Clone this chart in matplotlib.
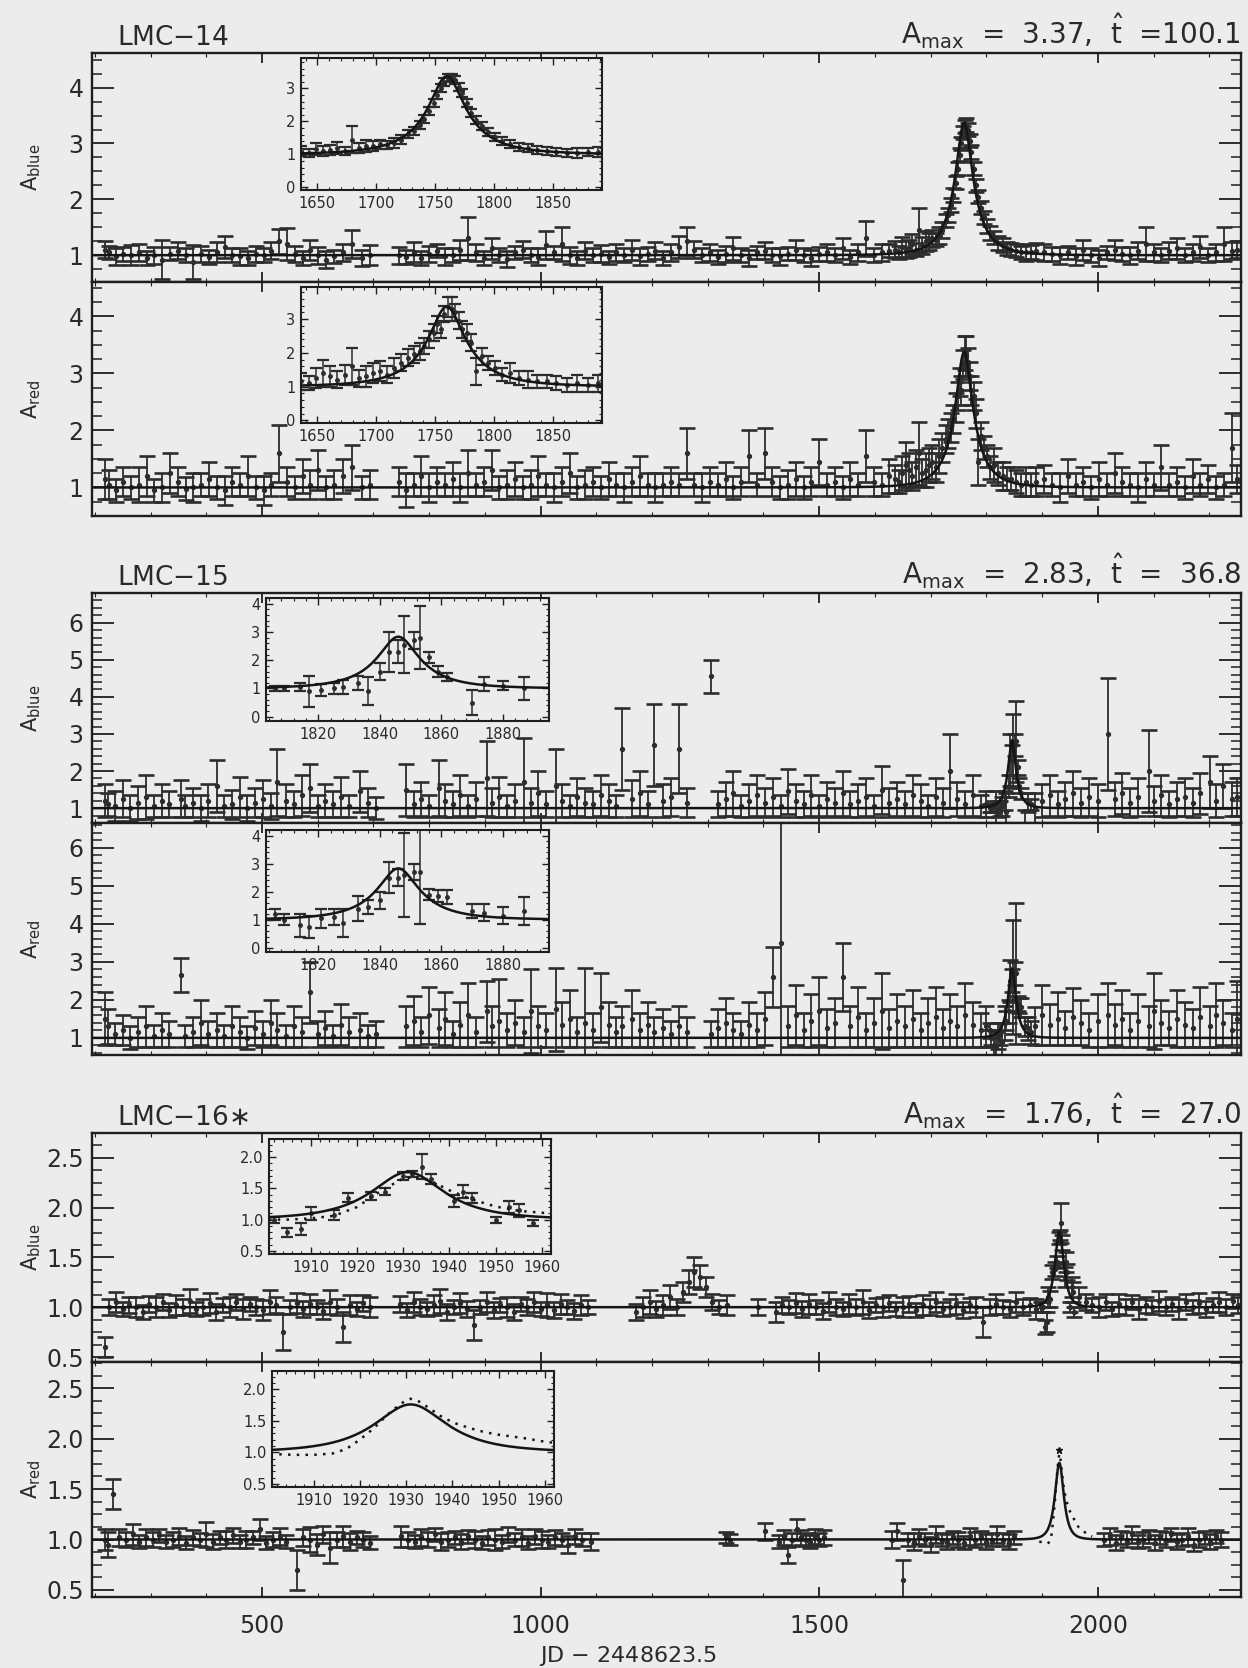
import numpy as np
import matplotlib
matplotlib.use("Agg")
import matplotlib.pyplot as plt
from matplotlib.ticker import MultipleLocator, FormatStrFormatter

plt.rcParams['font.family'] = ['DejaVu Sans']
plt.rcParams['mathtext.fontset'] = 'dejavusans'

# ---------------- LMC-14 (shared epochs for blue and red) ----------------
t14 = [218, 226, 238, 251, 265, 279, 293, 307, 321, 335,
       349, 363, 377, 391, 405, 419, 433, 447, 461, 475,
       489, 503, 517, 531, 545, 559, 573, 587, 601, 615,
       629, 645, 662, 680, 694, 746, 758, 772, 786, 800,
       814, 828, 842, 856, 870, 884, 898, 912, 926, 940,
       954, 968, 982, 996, 1010, 1024, 1038, 1052, 1066, 1080,
       1094, 1108, 1122, 1136, 1150, 1164, 1178, 1192, 1206, 1220,
       1234, 1248, 1262, 1276, 1290, 1304, 1318, 1332, 1346, 1360,
       1374, 1388, 1402, 1416, 1430, 1444, 1458, 1472, 1486, 1500,
       1514, 1528, 1542, 1556, 1570, 1584, 1598, 1612, 1626, 1636,
       1643, 1649, 1655, 1661, 1667, 1673, 1679, 1685, 1691, 1697,
       1703, 1709, 1715, 1721, 1727, 1732, 1737, 1741, 1745, 1749,
       1752, 1755, 1758, 1761, 1764, 1767, 1770, 1773, 1777, 1781,
       1785, 1790, 1795, 1801, 1807, 1814, 1821, 1829, 1837, 1845,
       1853, 1862, 1871, 1880, 1889, 1904, 1918, 1932, 1946, 1960,
       1974, 1988, 2002, 2016, 2030, 2044, 2058, 2072, 2086, 2100,
       2114, 2128, 2142, 2156, 2170, 2184, 2198, 2212, 2226, 2240,
       2250]
b14 = [1.10, 1.05, 0.98, 1.02, 1.00, 1.05, 0.95, 1.00, 0.92, 1.03,
       1.08, 1.00, 0.88, 1.02, 0.97, 1.05, 1.15, 1.00, 0.98, 0.95,
       1.02, 1.00, 1.08, 1.25, 1.20, 1.02, 0.95, 1.10, 1.00, 0.92,
       0.98, 1.05, 1.20, 0.95, 1.00, 1.00, 0.97, 1.05, 0.95, 1.02,
       1.08, 0.98, 1.00, 1.10, 1.30, 1.05, 0.95, 1.12, 1.00, 0.93,
       1.05, 1.10, 1.00, 0.97, 1.18, 1.05, 1.20, 1.00, 0.95, 1.08,
       1.00, 1.03, 0.96, 1.05, 1.00, 1.10, 0.98, 1.02, 1.08, 0.95,
       1.05, 1.15, 1.25, 1.10, 1.00, 1.05, 0.97, 1.02, 1.12, 1.00,
       0.95, 1.05, 1.08, 1.00, 0.98, 1.03, 1.10, 1.00, 0.95, 1.02,
       1.05, 1.00, 1.12, 0.97, 1.05, 1.30, 1.00, 1.05, 1.08, 1.10,
       1.05, 1.15, 1.10, 1.12, 1.20, 1.10, 1.45, 1.18, 1.25, 1.25,
       1.30, 1.28, 1.35, 1.45, 1.62, 1.72, 1.90, 2.08, 2.30, 2.55,
       2.80, 3.00, 3.20, 3.30, 3.33, 3.25, 3.05, 2.85, 2.55, 2.25,
       2.05, 1.85, 1.68, 1.52, 1.40, 1.32, 1.22, 1.18, 1.12, 1.10,
       1.08, 1.05, 1.05, 1.06, 1.07, 1.05, 1.02, 1.00, 1.05, 0.98,
       1.10, 1.00, 0.95, 1.05, 1.10, 1.02, 1.00, 1.08, 1.20, 1.05,
       1.00, 1.08, 1.12, 1.00, 1.05, 1.15, 1.00, 1.05, 1.20, 1.08,
       1.10]
eb14 = [0.15, 0.12, 0.15, 0.12, 0.18, 0.15, 0.12, 0.15, 0.35, 0.12,
        0.15, 0.12, 0.30, 0.15, 0.12, 0.18, 0.20, 0.12, 0.15, 0.12,
        0.15, 0.12, 0.15, 0.22, 0.28, 0.15, 0.12, 0.18, 0.15, 0.15,
        0.12, 0.15, 0.25, 0.15, 0.18, 0.15, 0.12, 0.18, 0.12, 0.15,
        0.12, 0.15, 0.12, 0.18, 0.38, 0.15, 0.12, 0.18, 0.12, 0.15,
        0.12, 0.15, 0.12, 0.15, 0.25, 0.12, 0.30, 0.15, 0.12, 0.15,
        0.12, 0.15, 0.12, 0.15, 0.12, 0.18, 0.15, 0.12, 0.15, 0.12,
        0.15, 0.20, 0.25, 0.15, 0.12, 0.15, 0.12, 0.15, 0.20, 0.12,
        0.15, 0.12, 0.15, 0.12, 0.15, 0.12, 0.18, 0.12, 0.15, 0.12,
        0.15, 0.12, 0.18, 0.12, 0.15, 0.32, 0.12, 0.15, 0.12, 0.15,
        0.12, 0.18, 0.15, 0.15, 0.18, 0.12, 0.40, 0.15, 0.18, 0.15,
        0.15, 0.12, 0.15, 0.15, 0.12, 0.12, 0.12, 0.12, 0.12, 0.12,
        0.12, 0.12, 0.12, 0.12, 0.12, 0.12, 0.12, 0.12, 0.12, 0.12,
        0.12, 0.12, 0.12, 0.12, 0.12, 0.12, 0.12, 0.12, 0.12, 0.12,
        0.12, 0.12, 0.15, 0.12, 0.15, 0.15, 0.12, 0.15, 0.12, 0.15,
        0.18, 0.12, 0.15, 0.12, 0.18, 0.12, 0.15, 0.15, 0.30, 0.15,
        0.12, 0.15, 0.18, 0.12, 0.15, 0.20, 0.12, 0.15, 0.30, 0.15,
        0.15]
r14 = [1.15, 1.05, 0.95, 1.10, 1.00, 1.05, 1.20, 0.95, 1.00, 1.25,
       1.10, 0.98, 1.00, 1.05, 1.15, 1.00, 0.95, 1.10, 1.05, 1.20,
       1.00, 0.95, 1.05, 1.60, 1.10, 1.00, 1.20, 1.05, 1.30, 1.00,
       1.05, 1.20, 1.35, 1.00, 1.05, 1.10, 0.95, 1.05, 1.20, 1.00,
       1.10, 1.05, 1.15, 1.00, 1.25, 1.05, 1.10, 1.30, 1.00, 1.05,
       1.15, 1.00, 1.05, 1.20, 1.05, 1.00, 1.10, 1.25, 1.00, 1.05,
       1.10, 1.00, 1.15, 1.05, 1.00, 1.10, 1.20, 1.05, 1.00, 1.05,
       1.10, 1.05, 1.60, 1.05, 1.00, 1.10, 1.05, 1.15, 1.00, 1.10,
       1.55, 1.05, 1.60, 1.10, 1.00, 1.05, 1.15, 1.00, 1.10, 1.45,
       1.05, 1.10, 1.00, 1.15, 1.05, 1.55, 1.10, 1.05, 1.20, 1.15,
       1.10, 1.25, 1.40, 1.30, 1.20, 1.35, 1.60, 1.25, 1.30, 1.40,
       1.45, 1.35, 1.55, 1.70, 1.85, 1.95, 2.05, 2.20, 2.40, 2.60,
       2.85, 2.70, 3.15, 3.35, 3.30, 3.20, 2.95, 2.70, 2.60, 2.30,
       1.45, 1.90, 1.70, 1.55, 1.35, 1.40, 1.25, 1.20, 1.15, 1.15,
       1.10, 1.05, 1.10, 1.05, 1.10, 1.15, 1.05, 1.00, 1.20, 1.05,
       1.10, 1.00, 1.15, 1.05, 1.25, 1.10, 1.05, 1.00, 1.15, 1.05,
       1.35, 1.05, 1.10, 1.00, 1.20, 1.05, 1.15, 1.00, 1.05, 1.70,
       1.15]
er14 = [0.35, 0.25, 0.20, 0.25, 0.20, 0.30, 0.35, 0.20, 0.25, 0.35,
        0.25, 0.20, 0.25, 0.20, 0.30, 0.20, 0.25, 0.25, 0.20, 0.35,
        0.20, 0.25, 0.20, 0.50, 0.25, 0.20, 0.30, 0.25, 0.35, 0.20,
        0.25, 0.30, 0.40, 0.20, 0.25, 0.25, 0.30, 0.20, 0.35, 0.25,
        0.25, 0.20, 0.30, 0.25, 0.40, 0.20, 0.25, 0.35, 0.20, 0.25,
        0.30, 0.20, 0.25, 0.35, 0.20, 0.25, 0.25, 0.35, 0.20, 0.25,
        0.25, 0.20, 0.30, 0.20, 0.25, 0.25, 0.35, 0.20, 0.25, 0.20,
        0.25, 0.20, 0.45, 0.20, 0.25, 0.25, 0.20, 0.30, 0.20, 0.25,
        0.45, 0.20, 0.45, 0.25, 0.20, 0.25, 0.30, 0.20, 0.25, 0.40,
        0.20, 0.25, 0.20, 0.30, 0.20, 0.45, 0.25, 0.20, 0.30, 0.25,
        0.20, 0.30, 0.40, 0.30, 0.25, 0.30, 0.55, 0.25, 0.30, 0.30,
        0.30, 0.25, 0.30, 0.25, 0.25, 0.25, 0.25, 0.25, 0.25, 0.25,
        0.25, 0.25, 0.25, 0.30, 0.35, 0.25, 0.25, 0.25, 0.25, 0.25,
        0.40, 0.25, 0.20, 0.20, 0.20, 0.30, 0.20, 0.25, 0.20, 0.20,
        0.20, 0.20, 0.25, 0.20, 0.25, 0.25, 0.20, 0.25, 0.30, 0.20,
        0.25, 0.20, 0.30, 0.20, 0.35, 0.25, 0.20, 0.25, 0.30, 0.20,
        0.40, 0.20, 0.25, 0.20, 0.30, 0.20, 0.25, 0.20, 0.20, 0.60,
        0.25]

# ---------------- LMC-15 (shared epochs) ----------------
t15 = [218, 224, 236, 250, 264, 278, 292, 306, 320, 334,
       354, 362, 376, 390, 404, 419, 432, 446, 460, 474,
       488, 502, 516, 527, 544, 558, 572, 586, 600, 614,
       628, 642, 656, 676, 690, 705, 758, 772, 786, 800,
       818, 828, 842, 856, 870, 884, 903, 912, 926, 940,
       954, 971, 982, 996, 1010, 1027, 1038, 1052, 1066, 1080,
       1094, 1108, 1122, 1136, 1147, 1164, 1178, 1192, 1204, 1220,
       1234, 1249, 1262, 1305, 1318, 1332, 1346, 1360, 1374, 1388,
       1402, 1417, 1431, 1444, 1458, 1472, 1486, 1500, 1514, 1528,
       1543, 1556, 1570, 1584, 1598, 1612, 1626, 1640, 1654, 1668,
       1682, 1696, 1710, 1722, 1734, 1748, 1762, 1776, 1790, 1800,
       1806, 1809, 1814, 1817, 1821, 1825, 1828, 1833, 1836, 1840,
       1843, 1846, 1848, 1851, 1853, 1856, 1859, 1862, 1870, 1874,
       1880, 1887, 1900, 1914, 1928, 1942, 1956, 1970, 1984, 2000,
       2018, 2030, 2044, 2058, 2072, 2091, 2100, 2114, 2128, 2142,
       2156, 2170, 2184, 2201, 2212, 2225, 2240, 2250]
b15 = [1.20, 1.10, 1.05, 1.25, 1.00, 1.15, 1.30, 1.05, 1.20, 1.10,
       1.25, 1.05, 1.15, 1.00, 1.20, 1.60, 1.05, 1.10, 1.30, 1.00,
       1.15, 1.25, 1.05, 1.70, 1.20, 1.10, 1.35, 1.55, 1.05, 1.20,
       1.10, 1.30, 1.05, 1.45, 1.15, 1.00, 1.50, 1.10, 1.25, 1.05,
       1.55, 1.20, 1.10, 1.35, 1.05, 1.25, 1.80, 1.15, 1.30, 1.05,
       1.20, 1.70, 1.15, 1.40, 1.10, 1.60, 1.20, 1.05, 1.30, 1.15,
       1.10, 1.35, 1.20, 1.05, 2.60, 1.25, 1.40, 1.10, 2.70, 1.20,
       1.30, 2.60, 1.15, 4.55, 1.10, 1.25, 1.40, 1.05, 1.20, 1.35,
       1.15, 1.30, 1.05, 1.45, 1.20, 1.10, 1.35, 1.05, 1.25, 1.15,
       1.40, 1.10, 1.20, 1.30, 1.05, 1.50, 1.15, 1.25, 1.10, 1.35,
       1.20, 1.05, 1.30, 1.15, 2.00, 1.25, 1.10, 1.35, 1.05, 1.10,
       1.00, 1.00, 1.05, 0.90, 0.95, 1.00, 1.05, 1.20, 0.90, 1.60,
       2.30, 2.30, 2.55, 2.70, 2.80, 2.10, 1.60, 1.40, 0.50, 1.15,
       1.10, 1.00, 1.20, 1.35, 1.10, 1.25, 1.40, 1.15, 1.30, 1.20,
       3.00, 1.25, 1.40, 1.15, 1.30, 2.00, 1.20, 1.35, 1.10, 1.25,
       1.30, 1.15, 1.40, 1.70, 1.20, 1.60, 1.25, 1.30]
eb15 = [0.45, 0.30, 0.40, 0.50, 0.35, 0.45, 0.60, 0.30, 0.45, 0.35,
        0.50, 0.30, 0.40, 0.35, 0.45, 0.70, 0.30, 0.40, 0.55, 0.35,
        0.40, 0.50, 0.35, 0.90, 0.45, 0.35, 0.55, 0.65, 0.30, 0.45,
        0.35, 0.55, 0.30, 0.55, 0.40, 0.30, 0.70, 0.35, 0.45, 0.30,
        0.75, 0.45, 0.35, 0.55, 0.30, 0.45, 1.00, 0.40, 0.55, 0.30,
        0.45, 1.20, 0.40, 0.60, 0.35, 1.00, 0.45, 0.30, 0.50, 0.40,
        0.35, 0.55, 0.45, 0.30, 1.10, 0.50, 0.60, 0.35, 1.10, 0.45,
        0.50, 1.20, 0.40, 0.45, 0.35, 0.45, 0.60, 0.30, 0.45, 0.55,
        0.40, 0.50, 0.30, 0.60, 0.45, 0.35, 0.55, 0.30, 0.45, 0.40,
        0.60, 0.35, 0.45, 0.50, 0.30, 0.65, 0.40, 0.45, 0.35, 0.55,
        0.45, 0.30, 0.50, 0.40, 1.00, 0.45, 0.35, 0.55, 0.30, 0.35,
        0.10, 0.10, 0.15, 0.55, 0.20, 0.20, 0.25, 0.25, 0.50, 0.30,
        0.70, 0.40, 1.00, 0.30, 1.10, 0.20, 0.20, 0.15, 0.45, 0.25,
        0.15, 0.40, 0.45, 0.55, 0.35, 0.45, 0.60, 0.40, 0.50, 0.45,
        1.50, 0.45, 0.55, 0.40, 0.50, 1.10, 0.40, 0.55, 0.35, 0.45,
        0.50, 0.40, 0.55, 0.70, 0.45, 0.60, 0.45, 0.50]
r15 = [1.50, 1.30, 1.10, 1.20, 1.00, 1.15, 1.30, 1.05, 1.20, 1.10,
       2.65, 1.05, 1.15, 1.40, 1.10, 1.20, 1.05, 1.30, 1.15, 1.00,
       1.25, 1.10, 1.40, 1.20, 1.05, 1.30, 1.15, 2.20, 1.10, 1.25,
       1.05, 1.35, 1.15, 1.20, 1.05, 1.10, 1.30, 1.45, 1.15, 1.60,
       1.25, 1.50, 1.10, 1.35, 1.60, 1.15, 1.70, 1.30, 1.45, 1.20,
       1.40, 1.15, 1.70, 1.30, 1.20, 1.75, 1.35, 1.50, 1.15, 1.40,
       1.20, 1.80, 1.35, 1.15, 1.30, 1.50, 1.20, 1.35, 1.15, 1.25,
       1.10, 1.30, 1.15, 1.10, 1.25, 1.40, 1.20, 1.10, 1.35, 1.20,
       1.50, 2.60, 3.50, 1.30, 1.60, 1.20, 1.45, 1.70, 1.25, 1.40,
       2.60, 1.30, 1.55, 1.20, 1.40, 1.70, 1.25, 1.45, 1.30, 1.50,
       1.20, 1.40, 1.55, 1.25, 1.45, 1.30, 1.60, 1.35, 1.20, 1.30,
       1.20, 1.00, 0.80, 0.75, 1.05, 1.10, 0.90, 1.40, 1.45, 1.70,
       2.50, 2.50, 2.60, 2.70, 2.70, 1.90, 1.85, 1.80, 1.30, 1.25,
       1.15, 1.30, 1.60, 1.35, 1.50, 1.25, 1.55, 1.40, 1.20, 1.45,
       1.60, 1.35, 1.50, 1.20, 1.45, 1.30, 1.70, 1.40, 1.25, 1.50,
       1.35, 1.25, 1.55, 1.30, 1.60, 1.40, 1.20, 1.50]
er15 = [0.70, 0.45, 0.30, 0.40, 0.30, 0.40, 0.55, 0.30, 0.45, 0.35,
        0.45, 0.30, 0.40, 0.60, 0.35, 0.45, 0.30, 0.55, 0.40, 0.30,
        0.45, 0.35, 0.60, 0.45, 0.30, 0.55, 0.40, 0.80, 0.35, 0.45,
        0.30, 0.55, 0.40, 0.45, 0.30, 0.35, 0.55, 0.65, 0.40, 0.75,
        0.50, 0.70, 0.35, 0.60, 0.85, 0.40, 0.80, 0.55, 1.10, 0.45,
        0.60, 0.40, 1.10, 0.55, 0.45, 1.10, 0.60, 0.75, 0.40, 1.45,
        0.45, 0.90, 0.60, 0.40, 0.55, 0.75, 0.45, 0.60, 0.40, 0.50,
        0.35, 0.55, 0.40, 0.35, 0.50, 0.65, 0.45, 0.35, 0.60, 0.45,
        0.70, 0.80, 3.40, 0.55, 0.80, 0.45, 0.70, 0.90, 0.50, 0.65,
        0.90, 0.55, 0.80, 0.45, 0.65, 1.00, 0.50, 0.70, 0.55, 0.75,
        0.45, 0.65, 0.80, 0.50, 0.70, 0.55, 0.85, 0.60, 0.45, 0.55,
        0.20, 0.20, 0.40, 0.40, 0.35, 0.30, 0.50, 0.45, 0.25, 0.30,
        0.55, 0.30, 1.50, 0.30, 1.85, 0.20, 0.20, 0.25, 0.25, 0.30,
        0.30, 0.50, 0.80, 0.55, 0.70, 0.45, 0.75, 0.60, 0.45, 0.70,
        0.85, 0.55, 0.75, 0.45, 0.70, 0.55, 1.00, 0.60, 0.45, 0.75,
        0.60, 0.50, 0.80, 0.55, 0.85, 0.60, 0.45, 1.00]

# ---------------- LMC-16 blue ----------------
t16b = [218, 226, 238, 250, 262, 274, 286, 298, 310, 322,
        334, 346, 358, 370, 382, 394, 406, 418, 430, 442,
        454, 466, 478, 490, 502, 514, 526, 538, 550, 562,
        574, 586, 598, 610, 622, 634, 646, 658, 670, 682,
        694, 748, 760, 772, 784, 796, 808, 820, 832, 844,
        856, 868, 880, 892, 904, 916, 928, 940, 952, 964,
        976, 988, 1000, 1012, 1024, 1036, 1048, 1060, 1072, 1086,
        1172, 1184, 1196, 1208, 1220, 1232, 1244, 1256, 1266, 1276,
        1286, 1296, 1308, 1320, 1334, 1390, 1422, 1434, 1446, 1458,
        1470, 1482, 1494, 1506, 1518, 1530, 1542, 1554, 1566, 1578,
        1590, 1602, 1614, 1626, 1638, 1650, 1662, 1674, 1686, 1698,
        1710, 1722, 1734, 1746, 1758, 1770, 1782, 1794, 1806, 1818,
        1830, 1842, 1854, 1866, 1878, 1890, 1898, 1902, 1905, 1908,
        1910, 1915, 1918, 1923, 1926, 1930, 1932, 1934, 1936, 1941,
        1943, 1945, 1950, 1953, 1955, 1958, 1966, 1978, 1990, 2002,
        2014, 2026, 2038, 2050, 2062, 2074, 2086, 2098, 2110, 2122,
        2134, 2146, 2158, 2170, 2182, 2194, 2206, 2218, 2230, 2242,
        2252]
b16 = [0.60, 1.00, 1.05, 0.98, 1.02, 1.00, 0.95, 1.03, 1.00, 1.05,
       0.97, 1.02, 1.00, 1.06, 0.98, 1.00, 1.04, 0.95, 1.02, 1.00,
       1.05, 0.98, 1.03, 1.00, 0.97, 1.05, 1.02, 0.75, 1.00, 1.04,
       0.98, 1.03, 1.00, 0.96, 1.05, 1.00, 0.80, 1.02, 0.98, 1.04,
       1.00, 1.03, 0.97, 1.05, 1.00, 0.98, 1.02, 1.06, 0.95, 1.00,
       1.04, 0.98, 0.82, 1.00, 1.05, 0.97, 1.02, 1.00, 0.95, 1.03,
       1.00, 1.05, 0.98, 1.02, 0.97, 1.03, 1.00, 0.96, 1.02, 1.00,
       0.95, 1.00, 1.05, 0.98, 1.02, 1.10, 1.00, 1.15, 1.25, 1.35,
       1.30, 1.20, 1.05, 1.00, 1.02, 1.00, 0.95, 1.02, 1.00, 1.04,
       0.98, 1.03, 1.00, 0.96, 1.05, 1.00, 0.98, 1.03, 1.00, 1.05,
       0.97, 1.02, 1.00, 1.04, 0.98, 1.00, 1.03, 0.97, 1.02, 1.00,
       1.05, 0.98, 1.00, 1.03, 0.97, 1.02, 1.00, 0.85, 1.00, 1.03,
       1.00, 0.98, 1.05, 1.00, 1.02, 0.98, 1.00, 1.00, 0.80, 0.85,
       1.10, 1.08, 1.35, 1.38, 1.45, 1.70, 1.73, 1.85, 1.65, 1.30,
       1.45, 1.35, 1.00, 1.20, 1.15, 0.95, 1.10, 1.05, 1.02, 1.00,
       1.05, 0.98, 1.03, 1.00, 1.05, 0.98, 1.02, 1.00, 1.06, 1.00,
       1.03, 0.98, 1.05, 1.00, 1.04, 0.98, 1.02, 1.05, 1.00, 1.06,
       1.02]
eb16 = [0.10, 0.08, 0.10, 0.07, 0.08, 0.10, 0.07, 0.08, 0.10, 0.08,
        0.07, 0.10, 0.08, 0.12, 0.07, 0.08, 0.10, 0.08, 0.07, 0.10,
        0.08, 0.10, 0.07, 0.08, 0.10, 0.12, 0.08, 0.18, 0.07, 0.10,
        0.08, 0.10, 0.07, 0.08, 0.12, 0.08, 0.15, 0.10, 0.07, 0.08,
        0.10, 0.08, 0.07, 0.10, 0.08, 0.07, 0.10, 0.12, 0.08, 0.07,
        0.10, 0.08, 0.15, 0.07, 0.10, 0.08, 0.07, 0.10, 0.08, 0.07,
        0.08, 0.10, 0.07, 0.12, 0.08, 0.10, 0.07, 0.08, 0.10, 0.07,
        0.08, 0.10, 0.12, 0.08, 0.10, 0.12, 0.08, 0.10, 0.12, 0.15,
        0.12, 0.10, 0.08, 0.07, 0.10, 0.08, 0.10, 0.08, 0.07, 0.10,
        0.08, 0.10, 0.07, 0.08, 0.10, 0.08, 0.07, 0.10, 0.08, 0.12,
        0.08, 0.07, 0.10, 0.08, 0.07, 0.10, 0.08, 0.07, 0.10, 0.08,
        0.10, 0.07, 0.08, 0.10, 0.08, 0.07, 0.10, 0.15, 0.08, 0.10,
        0.07, 0.08, 0.10, 0.08, 0.07, 0.10, 0.05, 0.05, 0.07, 0.10,
        0.10, 0.08, 0.07, 0.07, 0.06, 0.06, 0.05, 0.20, 0.08, 0.10,
        0.10, 0.08, 0.05, 0.10, 0.10, 0.05, 0.10, 0.08, 0.07, 0.10,
        0.08, 0.07, 0.10, 0.08, 0.07, 0.10, 0.08, 0.07, 0.10, 0.08,
        0.07, 0.10, 0.08, 0.07, 0.10, 0.08, 0.07, 0.10, 0.08, 0.07,
        0.08]

# ---------------- LMC-16 red ----------------
t16r = [218, 224, 232, 244, 256, 268, 280, 292, 304, 316,
        328, 340, 352, 364, 376, 388, 400, 412, 424, 436,
        448, 460, 472, 484, 496, 508, 520, 532, 544, 563,
        574, 586, 598, 610, 622, 634, 646, 658, 670, 682,
        694, 750, 762, 774, 786, 798, 810, 822, 834, 846,
        858, 870, 882, 894, 906, 918, 930, 942, 954, 966,
        978, 990, 1002, 1014, 1026, 1038, 1050, 1062, 1074, 1090,
        1332, 1340, 1402, 1428, 1436, 1444, 1452, 1460, 1468, 1476,
        1484, 1492, 1500, 1508, 1630, 1640, 1650, 1660, 1670, 1680,
        1690, 1700, 1710, 1720, 1730, 1740, 1750, 1760, 1770, 1780,
        1790, 1800, 1810, 1820, 1830, 1840, 1850, 2012, 2022, 2032,
        2042, 2052, 2062, 2072, 2082, 2092, 2102, 2112, 2122, 2132,
        2142, 2152, 2162, 2172, 2182, 2192, 2202, 2212, 2222]
r16 = [1.00, 0.95, 1.45, 1.02, 1.00, 1.05, 0.98, 1.02, 1.00, 1.04,
       0.98, 1.00, 1.03, 0.97, 1.02, 1.00, 1.05, 0.98, 1.02, 1.00,
       1.04, 0.98, 1.00, 1.02, 1.10, 0.97, 1.00, 1.03, 0.98, 0.70,
       1.02, 1.00, 0.95, 1.05, 0.92, 1.00, 1.03, 0.98, 1.02, 1.00,
       0.97, 1.03, 1.00, 0.98, 1.02, 1.00, 1.05, 0.98, 1.00, 1.02,
       0.98, 1.03, 1.00, 0.97, 1.02, 1.00, 0.98, 1.05, 1.00, 1.02,
       0.97, 1.03, 1.00, 0.98, 1.02, 1.00, 0.95, 1.03, 1.00, 0.98,
       1.02, 1.00, 1.08, 0.98, 1.02, 0.85, 1.00, 1.10, 1.02, 1.00,
       0.98, 1.03, 1.00, 1.02, 1.00, 1.08, 0.60, 1.00, 0.98, 1.03,
       1.00, 0.95, 1.05, 1.00, 0.98, 1.02, 1.00, 0.97, 1.03, 1.00,
       1.02, 0.98, 1.00, 1.05, 1.00, 0.98, 1.02, 1.00, 1.03, 0.97,
       1.02, 1.00, 1.05, 0.98, 1.00, 1.03, 0.97, 1.02, 1.00, 1.05,
       0.98, 1.00, 1.03, 0.95, 1.00, 1.02, 0.98, 1.03, 1.00]
er16 = [0.10, 0.12, 0.15, 0.08, 0.07, 0.10, 0.06, 0.08, 0.07, 0.06,
        0.06, 0.07, 0.08, 0.06, 0.07, 0.06, 0.12, 0.07, 0.06, 0.08,
        0.07, 0.06, 0.08, 0.06, 0.10, 0.06, 0.07, 0.08, 0.06, 0.20,
        0.08, 0.12, 0.10, 0.08, 0.15, 0.07, 0.10, 0.08, 0.06, 0.07,
        0.06, 0.10, 0.07, 0.06, 0.08, 0.07, 0.06, 0.08, 0.07, 0.06,
        0.07, 0.06, 0.08, 0.06, 0.07, 0.10, 0.06, 0.07, 0.06, 0.08,
        0.06, 0.07, 0.08, 0.06, 0.07, 0.06, 0.08, 0.07, 0.06, 0.08,
        0.05, 0.05, 0.08, 0.06, 0.07, 0.08, 0.06, 0.10, 0.07, 0.06,
        0.06, 0.07, 0.06, 0.07, 0.08, 0.08, 0.20, 0.06, 0.08, 0.07,
        0.06, 0.07, 0.08, 0.06, 0.07, 0.06, 0.07, 0.06, 0.08, 0.07,
        0.06, 0.07, 0.06, 0.08, 0.06, 0.07, 0.06, 0.06, 0.08, 0.07,
        0.06, 0.07, 0.08, 0.06, 0.07, 0.06, 0.07, 0.06, 0.07, 0.06,
        0.07, 0.06, 0.08, 0.06, 0.07, 0.06, 0.07, 0.06, 0.07]

# dotted alternative-fit curves for LMC-16
dot16b_t = [1901, 1905, 1910, 1915, 1920, 1925, 1930, 1933, 1936, 1940, 1945, 1950, 1955, 1960, 1962]
dot16b_a = [1.00, 1.00, 1.02, 1.06, 1.20, 1.45, 1.66, 1.68, 1.62, 1.47, 1.32, 1.21, 1.14, 1.11, 1.10]
dot16r_t = [1895, 1902, 1906, 1910, 1914, 1917, 1920, 1923, 1926, 1929, 1931, 1933, 1935,
            1938, 1941, 1944, 1947, 1950, 1953, 1956, 1959, 1962, 1966, 1972, 1980, 1990]
dot16r_a = [0.98, 0.97, 0.96, 0.96, 0.98, 1.05, 1.20, 1.38, 1.60, 1.78, 1.85, 1.80, 1.70,
            1.55, 1.45, 1.38, 1.32, 1.28, 1.25, 1.22, 1.18, 1.15, 1.12, 1.09, 1.06, 1.03]

# fit parameters (labels) and peak times
events = ["LMC$-$14", "LMC$-$15", "LMC$-$16$\\ast$"]
amax = [3.37, 2.83, 1.76]
that = [100.1, 36.8, 27.0]
t0 = [1760, 1846, 1931]
param_txt = ["$\\mathrm{A}_{\\rm max}$  =  3.37,  $\\hat{\\mathrm{t}}$  =100.1",
             "$\\mathrm{A}_{\\rm max}$  =  2.83,  $\\hat{\\mathrm{t}}$  =  36.8",
             "$\\mathrm{A}_{\\rm max}$  =  1.76,  $\\hat{\\mathrm{t}}$  =  27.0"]

# ---------------- drawing ----------------
W, H = 1248, 1668
BG = '#ececed'
INK = '#2c2c2c'
LINE = '#151515'

fig = plt.figure(figsize=(W / 100, H / 100), dpi=100, facecolor=BG)


def add_px(x0, x1, y0, y1):
    ax = fig.add_axes([x0 / W, 1 - y1 / H, (x1 - x0) / W, (y1 - y0) / H])
    ax.set_facecolor(BG)
    for s in ax.spines.values():
        s.set_linewidth(1.7)
        s.set_color('#1e1e1e')
    return ax


def umin_from_amax(a):
    lo, hi = 1e-5, 10.0
    for _ in range(80):
        mid = 0.5 * (lo + hi)
        val = (mid ** 2 + 2) / (mid * np.sqrt(mid ** 2 + 4))
        if val > a:
            lo = mid
        else:
            hi = mid
    return 0.5 * (lo + hi)


def pacz(t, a, th, tp):
    u0 = umin_from_amax(a)
    u = np.sqrt(u0 ** 2 + (2 * (t - tp) / th) ** 2)
    return (u ** 2 + 2) / (u * np.sqrt(u ** 2 + 4))


XL = (195, 2257)
main_y = [(53, 282), (282, 516), (593, 823), (823, 1055), (1133, 1362), (1362, 1597)]
ylims = [(0.52, 4.62), (0.5, 4.6), (0.6, 6.8), (0.55, 6.65), (0.45, 2.75), (0.43, 2.76)]
ymaj = [1, 1, 1, 1, 0.5, 0.5]
ymin = [0.25, 0.25, 0.2, 0.2, 0.125, 0.125]
yfmt = ['%d', '%d', '%d', '%d', '%.1f', '%.1f']
ylabs = ['$\\mathrm{A}_{\\rm blue}$', '$\\mathrm{A}_{\\rm red}$'] * 3

series = [(t14, b14, eb14), (t14, r14, er14), (t15, b15, eb15),
          (t15, r15, er15), (t16b, b16, eb16), (t16r, r16, er16)]

ins_box = [(301, 602, 58, 190), (301, 602, 287, 423), (266, 549, 598, 721),
           (266, 549, 830, 952), (269, 551, 1139, 1254), (272, 554, 1371, 1487)]
ins_xl = [(1636, 1892), (1636, 1892), (1803, 1895), (1803, 1895), (1901, 1962), (1901, 1962)]
ins_yl = [(-0.08, 3.92), (-0.08, 3.95), (-0.15, 4.2), (-0.15, 4.2), (0.45, 2.29), (0.45, 2.29)]
ins_xmaj = [50, 50, 20, 20, 10, 10]
ins_ymaj = [1, 1, 1, 1, 0.5, 0.5]
ins_yfmt = ['%d', '%d', '%d', '%d', '%.1f', '%.1f']
ins_data = [True, True, True, True, True, False]

for i in range(6):
    ev = i // 2
    ax = add_px(92, 1241, main_y[i][0], main_y[i][1])
    t, a, e = series[i]
    ax.errorbar(t, a, yerr=e, fmt='none', ecolor=INK, elinewidth=1.3,
                capsize=6, capthick=1.9, zorder=2)
    ax.plot(t, a, ls='none', marker='o', ms=2.8, color=INK, zorder=2)
    tt = np.linspace(XL[0], XL[1], 4000)
    ax.plot(tt, pacz(tt, amax[ev], that[ev], t0[ev]), color=LINE, lw=1.8, zorder=3)
    if i == 5:
        ax.plot(dot16r_t, dot16r_a, color=LINE, lw=1.8, ls=(0, (1, 2.5)), zorder=3)
        ax.plot([1930], [1.89], ls='none', marker='*', ms=5, color=LINE, zorder=4)
    ax.set_xlim(*XL)
    ax.set_ylim(*ylims[i])
    ax.xaxis.set_major_locator(MultipleLocator(500))
    ax.xaxis.set_minor_locator(MultipleLocator(100))
    ax.yaxis.set_major_locator(MultipleLocator(ymaj[i]))
    ax.yaxis.set_minor_locator(MultipleLocator(ymin[i]))
    ax.yaxis.set_major_formatter(FormatStrFormatter(yfmt[i]))
    ax.tick_params(axis='both', which='both', direction='in', top=True, right=True,
                   colors='#1e1e1e', labelcolor='#2a2a2a')
    ax.tick_params(axis='y', which='major', length=16, width=1.3, labelsize=17, pad=6)
    ax.tick_params(axis='y', which='minor', length=7, width=1.1)
    ax.tick_params(axis='x', which='major', length=7, width=1.3, labelsize=17, pad=12)
    ax.tick_params(axis='x', which='minor', length=3, width=0.8)
    if i != 5:
        ax.tick_params(axis='x', labelbottom=False)
    ax.set_ylabel(ylabs[i], fontsize=15, color='#2a2a2a')
    ax.yaxis.set_label_coords(-0.043, 0.5)
    if i % 2 == 0:
        ax.text(0.022, 1.008, events[ev], transform=ax.transAxes, ha='left', va='bottom',
                fontsize=19, color='#2a2a2a')
        ax.text(1.0, 1.008, param_txt[ev], transform=ax.transAxes, ha='right', va='bottom',
                fontsize=20, color='#2a2a2a')

    # inset
    x0, x1, y0, y1 = ins_box[i]
    ai = add_px(x0, x1, y0, y1)
    for s in ai.spines.values():
        s.set_linewidth(1.5)
    xl = ins_xl[i]
    if ins_data[i]:
        ta = np.array(t)
        m = (ta >= xl[0] - 2) & (ta <= xl[1] + 2)
        ai.errorbar(ta[m], np.array(a)[m], yerr=np.array(e)[m], fmt='none', ecolor=INK,
                    elinewidth=1.1, capsize=4.5, capthick=1.6, zorder=2)
        ai.plot(ta[m], np.array(a)[m], ls='none', marker='o', ms=2.5, color=INK, zorder=2)
    ti = np.linspace(xl[0], xl[1], 800)
    ai.plot(ti, pacz(ti, amax[ev], that[ev], t0[ev]), color=LINE, lw=1.8, zorder=3)
    if i == 4:
        ai.plot(dot16b_t, dot16b_a, color=LINE, lw=1.8, ls=(0, (1, 2.5)), zorder=3)
    if i == 5:
        ai.plot(dot16r_t, dot16r_a, color=LINE, lw=1.8, ls=(0, (1, 2.5)), zorder=3)
    ai.set_xlim(*xl)
    ai.set_ylim(*ins_yl[i])
    ai.xaxis.set_major_locator(MultipleLocator(ins_xmaj[i]))
    ai.xaxis.set_minor_locator(MultipleLocator(ins_xmaj[i] / 5))
    ai.yaxis.set_major_locator(MultipleLocator(ins_ymaj[i]))
    ai.yaxis.set_minor_locator(MultipleLocator(ins_ymaj[i] / 5))
    ai.yaxis.set_major_formatter(FormatStrFormatter(ins_yfmt[i]))
    ai.tick_params(axis='both', which='both', direction='in', top=True, right=True,
                   colors='#1e1e1e', labelcolor='#2a2a2a', labelsize=10.5)
    ai.tick_params(which='major', length=5, width=1.0, pad=4)
    ai.tick_params(which='minor', length=2.5, width=0.8)

fig.text(628 / W, 1 - 1656 / H, 'JD $-$ 2448623.5', ha='center', va='center',
         fontsize=16, color='#2a2a2a')

fig.savefig('out.png', dpi=100, facecolor=BG)
